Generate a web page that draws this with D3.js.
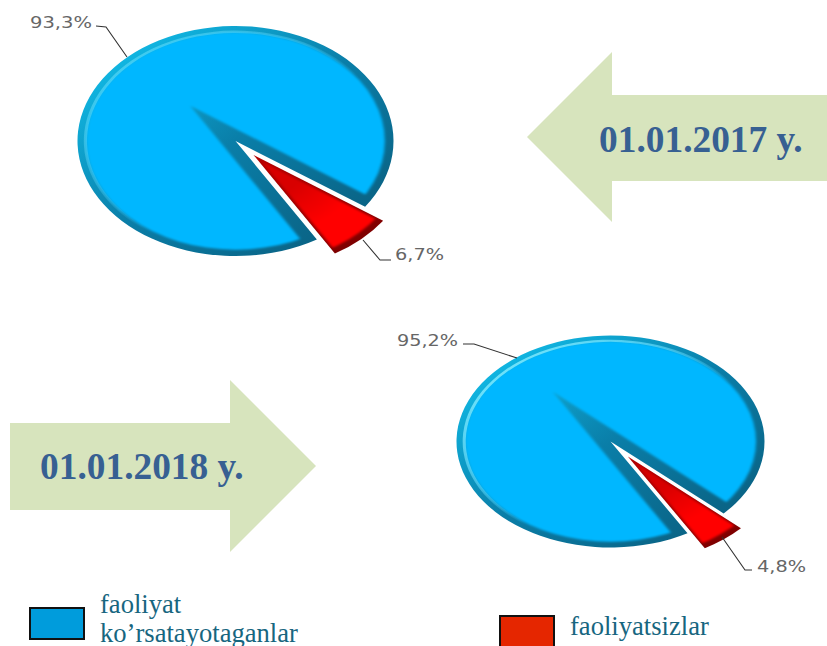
<!DOCTYPE html>
<html>
<head>
<meta charset="utf-8">
<script src="https://cdn.jsdelivr.net/npm/d3@7"></script>
<style>
    html, body { margin: 0; padding: 0; background: #fff; overflow: hidden; }
    svg { display: block; }
</style>
</head>
<body>
<div id="chart"></div>
<script>
// Values: [active, inactive]
const shares2017 = [93.3, 6.7];
const shares2018 = [95.2, 4.8];
const shareLabels2017 = ["93,3%", "6,7%"];
const shareLabels2018 = ["95,2%", "4,8%"];
const dateLabels = ["01.01.2017 y.", "01.01.2018 y."];
const legendLabels = [["faoliyat", "ko’rsatayotaganlar"], ["faoliyatsizlar"]];

const width = 827;
const height = 646;
const unit = 100; // pie radius before the ellipse scaling

const svg = d3.select("#chart")
    .append("svg")
    .attr("width", width)
    .attr("height", height)
    .attr("viewBox", [0, 0, width, height]);

const defs = svg.append("defs");

function linearGradient(id, x1, y1, x2, y2, stops) {
    const g = defs.append("linearGradient")
        .attr("id", id)
        .attr("gradientUnits", "userSpaceOnUse")
        .attr("x1", x1).attr("y1", y1).attr("x2", x2).attr("y2", y2);
    stops.forEach(s => g.append("stop")
        .attr("offset", s[0]).attr("stop-color", s[1]).attr("stop-opacity", s[2] === undefined ? 1 : s[2]));
}

linearGradient("blueRim", -70, -70, 70, 70, [[0, "#10b4e0"], [0.5, "#0a7ea8"], [1, "#0a6486"]]);
linearGradient("highlight", -75, -75, 40, 40, [[0, "#8ff0ff", 0.95], [0.45, "#7fe8ff", 0.55], [0.75, "#7fe8ff", 0]]);
linearGradient("redRim", -20, -20, 60, 90, [[0, "#c00000"], [1, "#7a0000"]]);

const redFace = defs.append("radialGradient")
    .attr("id", "redFace")
    .attr("gradientUnits", "userSpaceOnUse")
    .attr("cx", 0).attr("cy", 0).attr("r", unit);
redFace.append("stop").attr("offset", 0.3).attr("stop-color", "#d80000");
redFace.append("stop").attr("offset", 0.65).attr("stop-color", "#ff0000");

defs.append("filter")
    .attr("id", "soft")
    .attr("x", "-20%").attr("y", "-20%").attr("width", "140%").attr("height", "140%")
    .append("feGaussianBlur")
    .attr("stdDeviation", 1.1);

const deg = Math.PI / 180;

function drawPie(id, values, cfg) {
    const arcs = d3.pie().sort(null)
        .startAngle(cfg.start * deg)
        .endAngle((cfg.start + 360) * deg)(values);

    const baseArc = d3.arc().innerRadius(0).outerRadius(unit);
    const bigArc = d3.arc().innerRadius(0).outerRadius(unit * 2);

    const root = svg.append("g")
        .attr("transform", `translate(${cfg.cx},${cfg.cy}) scale(${cfg.rx / unit},${cfg.ry / unit})`);

    defs.append("clipPath").attr("id", `${id}-blue`).append("path").attr("d", baseArc(arcs[0]));
    defs.append("clipPath").attr("id", `${id}-red`).append("path").attr("d", baseArc(arcs[1]));
    defs.append("clipPath").attr("id", `${id}-inner`).append("circle").attr("r", unit * 0.945);
    defs.append("clipPath").attr("id", `${id}-innerRed`).append("circle").attr("r", unit * 0.95);

    // Direction of the small slice, all bevels and the explode follow it
    const mid = (arcs[1].startAngle + arcs[1].endAngle) / 2;
    const dirX = Math.sin(mid);
    const dirY = -Math.cos(mid);

    // Blue slice
    const blue = root.append("g");
    blue.append("path").attr("d", baseArc(arcs[0])).attr("fill", "url(#blueRim)");
    blue.append("g")
        .attr("clip-path", `url(#${id}-blue)`)
        .append("g")
        .attr("filter", "url(#soft)")
        .append("g")
        .attr("clip-path", `url(#${id}-inner)`)
        .append("path")
        .attr("d", bigArc(arcs[0]))
        .attr("transform", `translate(${-dirX * cfg.notch},${-dirY * cfg.notch})`)
        .attr("fill", "#00b7ff");
    blue.append("path")
        .attr("d", d3.arc().innerRadius(unit * 0.94).outerRadius(unit * 0.96)(arcs[0]))
        .attr("fill", "url(#highlight)")
        .attr("opacity", cfg.glow);

    // Red slice, pulled out of the pie
    const red = root.append("g")
        .attr("transform", `translate(${dirX * cfg.explode},${dirY * cfg.explode})`);
    red.append("path").attr("d", baseArc(arcs[1])).attr("fill", "url(#redRim)");
    red.append("g")
        .attr("clip-path", `url(#${id}-red)`)
        .append("g")
        .attr("filter", "url(#soft)")
        .append("g")
        .attr("clip-path", `url(#${id}-innerRed)`)
        .append("path")
        .attr("d", bigArc(arcs[1]))
        .attr("transform", `translate(${dirX * 7},${dirY * 7})`)
        .attr("fill", "url(#redFace)");
}

function drawShareLabel(text, points, x, y, w) {
    svg.append("path")
        .attr("d", d3.line()(points))
        .attr("fill", "none")
        .attr("stroke", "#333")
        .attr("stroke-width", 1.1);
    svg.append("text")
        .attr("x", x)
        .attr("y", y)
        .attr("textLength", w)
        .attr("lengthAdjust", "spacingAndGlyphs")
        .attr("font-family", "'DejaVu Sans', sans-serif")
        .attr("font-size", 15)
        .attr("fill", "#666")
        .text(text);
}

function drawArrow(points, text, textX, textY) {
    svg.append("path")
        .attr("d", d3.line().curve(d3.curveLinearClosed)(points))
        .attr("fill", "#d7e4bd");
    svg.append("text")
        .attr("x", textX)
        .attr("y", textY)
        .attr("font-family", "'Liberation Serif', serif")
        .attr("font-weight", "bold")
        .attr("font-size", 37.4)
        .attr("fill", "#376092")
        .text(text);
}

function drawLegendItem(color, x, y, lines, textX, baselines) {
    svg.append("rect")
        .attr("x", x).attr("y", y)
        .attr("width", 54).attr("height", 31)
        .attr("fill", color)
        .attr("stroke", "#111")
        .attr("stroke-width", 2);
    lines.forEach((line, i) => {
        svg.append("text")
            .attr("x", textX)
            .attr("y", baselines[i])
            .attr("font-family", "'Liberation Serif', serif")
            .attr("font-size", 26.6)
            .attr("fill", "#17667f")
            .text(line);
    });
}

// Arrows behind everything else
drawArrow([[527, 137], [612, 52], [612, 95], [827, 95], [827, 181], [612, 181], [612, 222]], dateLabels[0], 599, 152);
drawArrow([[10, 423], [230, 423], [230, 380], [316, 466], [230, 552], [230, 510], [10, 510]], dateLabels[1], 40, 479);

// Pies
drawPie("p2017", shares2017, { cx: 235.5, cy: 141, rx: 158, ry: 115, start: 149, explode: 16.7, notch: 42, glow: 0.45 });
drawPie("p2018", shares2018, { cx: 610.5, cy: 441.5, rx: 154, ry: 106, start: 150, explode: 18, notch: 60, glow: 0.85 });

// Share labels with their leader lines
drawShareLabel(shareLabels2017[0], [[96, 26], [106, 27], [127, 57]], 30, 28, 62);
drawShareLabel(shareLabels2017[1], [[363, 240], [380, 260], [391, 260]], 395, 260, 49);
drawShareLabel(shareLabels2018[0], [[463, 344], [474, 344], [517, 358]], 397, 346, 61);
drawShareLabel(shareLabels2018[1], [[722, 537], [745, 570], [752, 570]], 757, 572, 49);

// Legend, the bottom of it runs off the page like the source
drawLegendItem("#009cdc", 30, 608, legendLabels[0], 100, [613, 642]);
drawLegendItem("#e52600", 500, 616, legendLabels[1], 570, [635]);
</script>
</body>
</html>
